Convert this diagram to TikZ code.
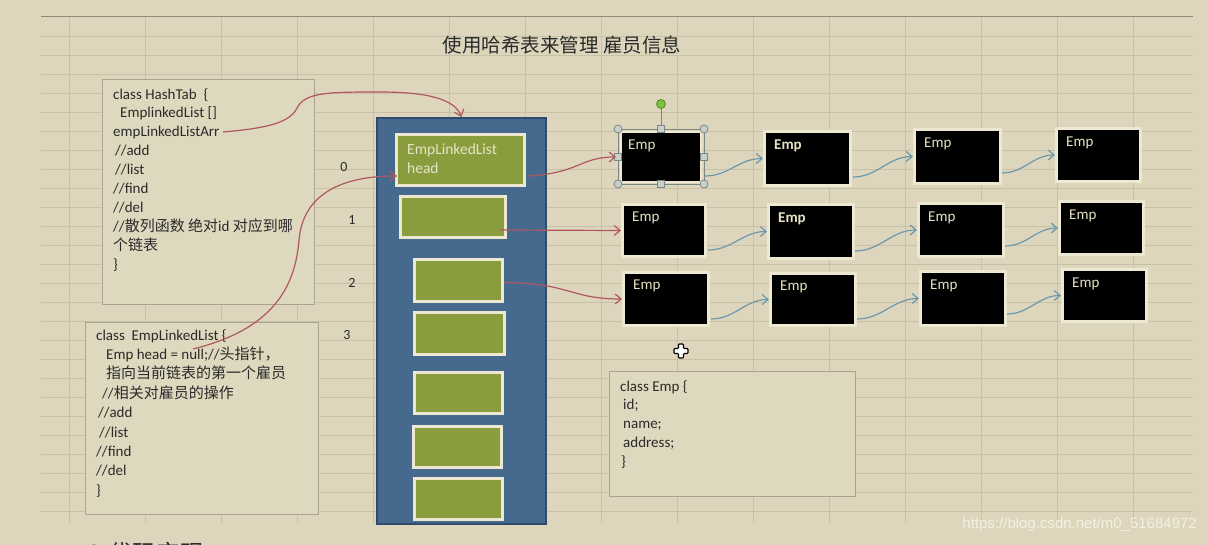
\documentclass[tikz,border=0pt]{standalone}
\usepackage{fontspec}
\setmainfont{Carlito}
\newfontfamily\cjk{Noto Sans CJK SC}
\newfontfamily\wmfont{Liberation Sans}
\usetikzlibrary{arrows.meta,calc}
\definecolor{bg}{HTML}{DDD6BD}
\definecolor{gridc}{HTML}{C9C1A6}
\definecolor{topc}{HTML}{8F8A78}
\definecolor{boxfill}{HTML}{DED8BF}
\definecolor{boxdraw}{HTML}{A9A38F}
\definecolor{codec}{HTML}{2A2A2A}
\definecolor{colblue}{HTML}{46698E}
\definecolor{colborder}{HTML}{2E4B6B}
\definecolor{olive}{HTML}{8A9D3E}
\definecolor{cream}{HTML}{ECE8D2}
\definecolor{greentext}{HTML}{E6E3C2}
\definecolor{redarrow}{HTML}{B0585E}
\definecolor{bluearrow}{HTML}{6D98AC}
\definecolor{handle}{HTML}{C5D1CB}
\definecolor{handledraw}{HTML}{7C8783}
\definecolor{rothandle}{HTML}{7AC43C}
\definecolor{rothandledraw}{HTML}{508C28}
\definecolor{wmc}{HTML}{F4F0E4}
\begin{document}
\begin{tikzpicture}[x=1pt,y=-1pt,
  gridline/.style={draw=gridc,line width=0.8pt},
  topline/.style={draw=topc,line width=1pt},
  codebox/.style={draw=boxdraw,fill=boxfill,line width=1.2pt,inner sep=0pt,anchor=north west},
  codetext/.style={text=codec,align=left,inner sep=0pt,anchor=north west},
  greenbox/.style={draw=cream,fill=olive,line width=3pt,inner sep=0pt,minimum width=88pt,minimum height=41pt},
  empbox/.style={draw=cream,fill=black,line width=3pt,inner sep=0pt,minimum width=85pt,minimum height=53pt},
  emptext/.style={text=greentext,inner sep=0pt,anchor=west,font=\fontsize{15}{18}\selectfont},
  empbold/.style={emptext,font=\bfseries\fontsize{15}{18}\selectfont},
  idx/.style={text=codec,inner sep=0pt,font=\fontsize{14}{16}\selectfont},
  redarr/.style={draw=redarrow,line width=1.2pt,-{Straight Barb[length=6pt,width=10pt]}},
  bluearr/.style={draw=bluearrow,line width=1.2pt,-{Straight Barb[length=6pt,width=10pt]}},
  hdl/.style={fill=handle,draw=handledraw,line width=0.8pt}
]
\fill[bg] (0,0) rectangle (1208,545);
\useasboundingbox (0,0) rectangle (1208,545);

% grid
\foreach \y in {36,55,...,511} \draw[gridline] (41,\y) -- (1193,\y);
\foreach \x in {69,145,...,1133} \draw[gridline] (\x,17) -- (\x,523);
\draw[topline] (41,17) -- (1193,17);

% title
\node[text=codec,inner sep=0pt,font=\cjk\fontsize{19.5}{22}\selectfont] (title) at (562,45) {使用哈希表来管理 雇员信息};

% HashTab box
\node[codebox,minimum width=212pt,minimum height=225pt] (hash) at (102,79) {};
\node[codetext,font=\fontsize{15}{18.9}\selectfont] (hashtxt) at (113,88) {class HashTab\ \ \{\\
\hspace*{7pt}EmplinkedList []\\
empLinkedListArr\\
\hspace*{2pt}//add\\
\hspace*{2pt}//list\\
//find\\
//del\\
//{\cjk 散列函数 绝对}id {\cjk 对应到哪}\\
{\cjk 个链表}\\
\}};

% EmpLinkedList box
\node[codebox,minimum width=233pt,minimum height=192pt] (elist) at (85,322) {};
\node[codetext,font=\fontsize{15}{19.4}\selectfont] (elisttxt) at (96,329) {class\ \ EmpLinkedList \{\\
\hspace*{10pt}Emp head = null;//{\cjk 头指针，}\\
\hspace*{10pt}{\cjk 指向当前链表的第一个雇员}\\
\hspace*{6pt}//{\cjk 相关对雇员的操作}\\
\hspace*{2pt}//add\\
\hspace*{3pt}//list\\
//find\\
//del\\
\}};

% class Emp box
\node[codebox,minimum width=246pt,minimum height=125pt] (empcls) at (609,371) {};
\node[codetext,font=\fontsize{15}{18.8}\selectfont] (empclstxt) at (620,380) {class Emp \{\\
\hspace*{3pt}id;\\
\hspace*{3pt}name;\\
\hspace*{3pt}address;\\
\hspace*{1pt}\}};

% blue column
\node[draw=colborder,fill=colblue,line width=2pt,inner sep=0pt,minimum width=169pt,minimum height=406pt,anchor=north west] (col) at (376,117) {};

% green boxes
\node[greenbox,minimum width=128pt,minimum height=51pt] (g1) at (460.5,160) {};
\node[text=greentext,align=left,inner sep=0pt,anchor=north west,font=\fontsize{15.5}{19}\selectfont] (g1txt) at (407,144) {EmpLinkedList\\head};
\node[greenbox,minimum width=105pt] (g2) at (453,217) {};
\node[greenbox,minimum height=42pt] (g3) at (458.5,280.5) {};
\node[greenbox,minimum width=90pt,minimum height=42pt] (g4) at (459.5,333.5) {};
\node[greenbox] (g5) at (458.5,393) {};
\node[greenbox] (g6) at (457.5,447) {};
\node[greenbox] (g7) at (458.5,499) {};

% index labels
\node[idx] (i0) at (344,167) {0};
\node[idx] (i1) at (352,220) {1};
\node[idx] (i2) at (352,283) {2};
\node[idx] (i3) at (347,335) {3};

% Emp boxes
\node[empbox,line width=2pt,minimum width=80pt,minimum height=50pt] (e11) at (661,157) {};
\node[empbox,minimum width=86pt,minimum height=54pt] (e12) at (807.5,158.5) {};
\node[empbox,minimum width=86pt,minimum height=54pt] (e13) at (957.5,156.5) {};
\node[empbox,minimum width=84pt] (e14) at (1098.5,155) {};
\node[empbox,minimum width=83pt,minimum height=52pt] (e21) at (664,230.5) {};
\node[empbox,minimum height=54pt] (e22) at (811,231.5) {};
\node[empbox] (e23) at (961,230) {};
\node[empbox,minimum width=84pt] (e24) at (1101.5,228) {};
\node[empbox] (e31) at (666,299) {};
\node[empbox,minimum height=52pt] (e32) at (813,299.5) {};
\node[empbox,minimum height=54pt] (e33) at (963,298.5) {};
\node[empbox,minimum width=84pt,minimum height=52pt] (e34) at (1104.5,295.5) {};

\node[emptext] (t11) at ($(e11.north west)+(8,15)$) {Emp};
\node[empbold] (t12) at ($(e12.north west)+(11,16)$) {Emp};
\node[emptext] (t13) at ($(e13.north west)+(11,16)$) {Emp};
\node[emptext] (t14) at ($(e14.north west)+(11,16)$) {Emp};
\node[emptext] (t21) at ($(e21.north west)+(11,15)$) {Emp};
\node[empbold] (t22) at ($(e22.north west)+(11,16)$) {Emp};
\node[emptext] (t23) at ($(e23.north west)+(11,16)$) {Emp};
\node[emptext] (t24) at ($(e24.north west)+(11,16)$) {Emp};
\node[emptext] (t31) at ($(e31.north west)+(11,15)$) {Emp};
\node[emptext] (t32) at ($(e32.north west)+(11,15)$) {Emp};
\node[emptext] (t33) at ($(e33.north west)+(11,16)$) {Emp};
\node[emptext] (t34) at ($(e34.north west)+(11,16)$) {Emp};

% selection frame on e11
\draw[draw=handledraw,line width=0.8pt] (661,108) -- (661,129);
\draw[draw=handledraw,line width=0.8pt] (618,129) rectangle (704,184);
\draw[fill=rothandle,draw=rothandledraw,line width=0.8pt] (661,104) circle (4.5);
\foreach \px/\py in {618/129,704/129,618/184,704/184} \draw[hdl] (\px,\py) circle (4);
\foreach \px/\py in {661/129,661/184,618/156.5,704/156.5} \draw[hdl] (\px-3.5,\py-3.5) rectangle (\px+3.5,\py+3.5);

% connectors: blue
\draw[bluearr] ($(e11.south east)+(3,-7)$) to[out=0,in=180] (e12.west);
\draw[bluearr] ($(e12.south east)+(1,-10)$) to[out=0,in=180] (e13.west);
\draw[bluearr] ($(e13.south east)+(0,-12)$) to[out=0,in=180] (e14.west);
\draw[bluearr] ($(e21.south east)+(1,-8)$) to[out=0,in=180] (e22.west);
\draw[bluearr] ($(e22.south east)+(0,-9)$) to[out=0,in=180] (e23.west);
\draw[bluearr] ($(e23.south east)+(0,-12)$) to[out=0,in=180] (e24.west);
\draw[bluearr] ($(e31.south east)+(1,-8)$) to[out=0,in=180] (e32.west);
\draw[bluearr] ($(e32.south east)+(0,-8)$) to[out=0,in=180] (e33.west);
\draw[bluearr] ($(e33.south east)+(0,-13)$) to[out=0,in=180] (e34.west);

% connectors: red
\coordinate (arrstart) at (223,132);
\coordinate (elstart) at (193,349);
\draw[redarr] (arrstart) .. controls (270,128) and (290,122) .. (297,108) .. controls (305,92) and (330,92) .. (380,92) .. controls (430,92) and (455,100) .. (col.north);
\draw[redarr] (elstart) .. controls (270,330) and (295,290) .. (299,240) .. controls (303,195) and (340,176) .. ($(g1.south west)+(2,-11)$);
\draw[redarr] ($(g1.south east)+(2,-11)$) .. controls (580,173) and (580,157) .. ($(e11.west)+(-4,0)$);
\draw[redarr] ($(g2.east)+(-7,13)$) -- (e21.west);
\draw[redarr] ($(g3.east)+(0,2)$) .. controls (570,283) and (570,299) .. (e31.west);

% move cursor
\draw[fill=white,draw=black,line width=1.1pt,rounded corners=0.8pt] (678.5,344) -- (683.5,344) -- (683.5,348.5) -- (688,348.5) -- (688,353.5) -- (683.5,353.5) -- (683.5,358) -- (678.5,358) -- (678.5,353.5) -- (674,353.5) -- (674,348.5) -- (678.5,348.5) -- cycle;

% bottom text, cut off by the lower edge as in the reference
\node[text=codec,inner sep=0pt,anchor=north west,font=\cjk\fontsize{24}{26}\selectfont] (bottom) at (88,542) {2.代码实现};

% watermark
\node[text=wmc,inner sep=0pt,anchor=east,font=\wmfont\fontsize{15}{18}\selectfont] (wm) at (1197,525) {https://blog.csdn.net/m0\_51684972};
\end{tikzpicture}
\end{document}
